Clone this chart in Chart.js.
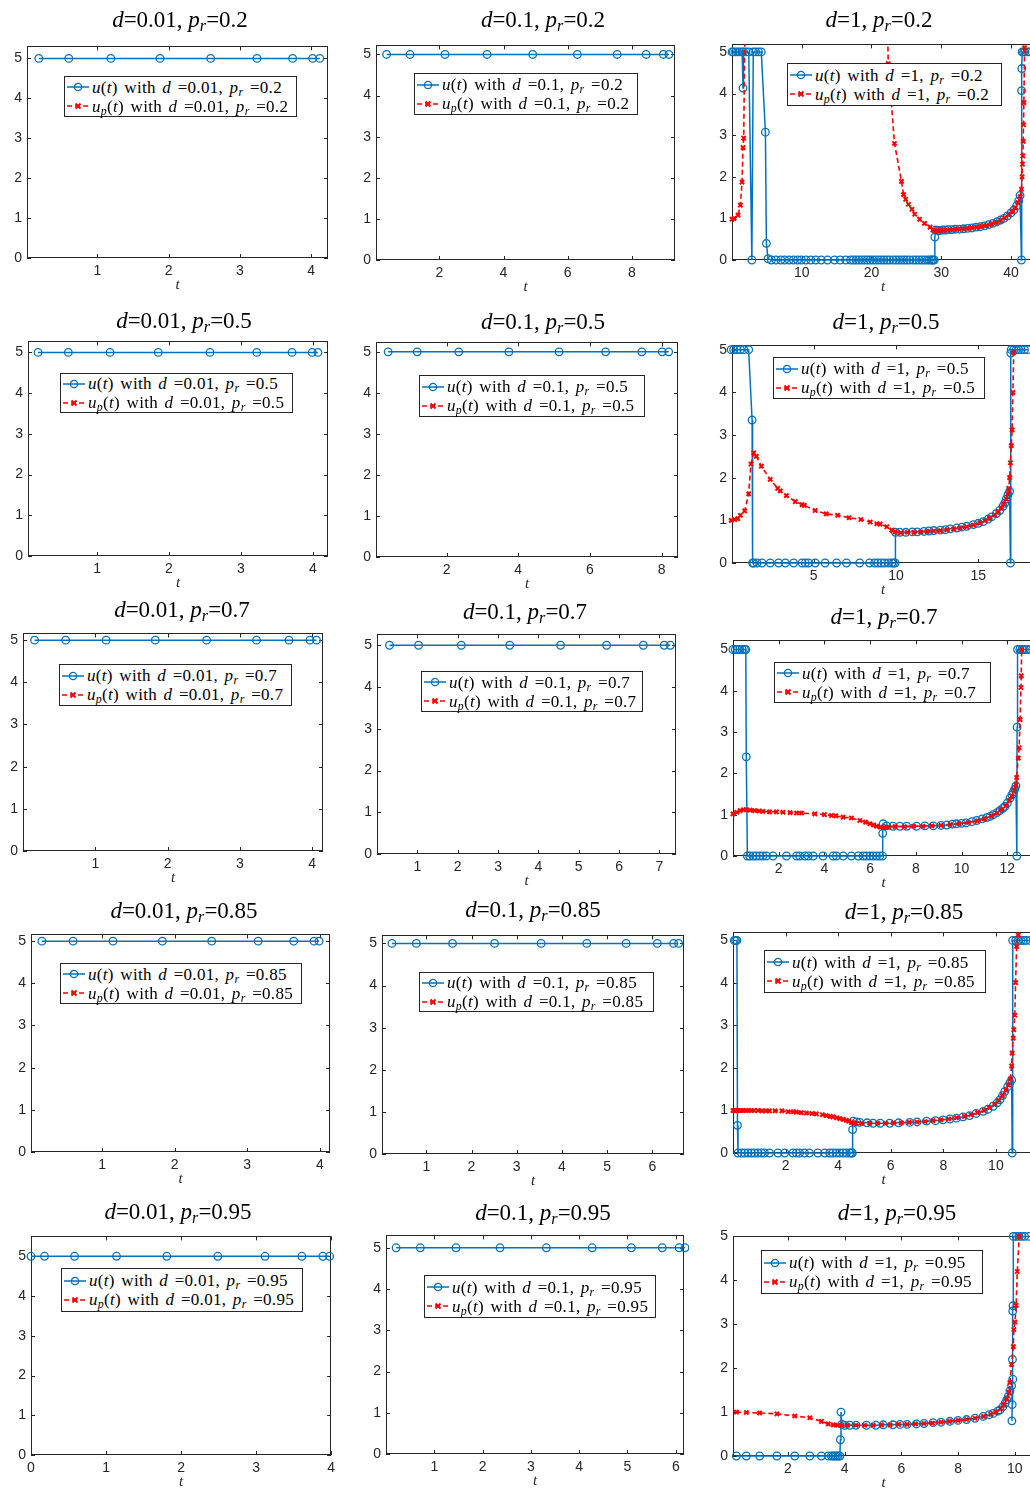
<!DOCTYPE html>
<html>
<head>
<meta charset="utf-8">
<script src="https://cdn.jsdelivr.net/npm/chart.js@4.4.0/dist/chart.umd.min.js"></script>
<style>
  html, body { margin: 0; padding: 0; background: #fff; }
  body { width: 1030px; height: 1489px; position: relative; overflow: hidden; }
  .panel { position: absolute; }
  .ttl { position: absolute; width: 300px; text-align: center; font: 23px "Liberation Serif", serif; line-height: 26px; color: #000; white-space: nowrap; }
  .leg { position: absolute; box-sizing: border-box; background: #fff; border: 1px solid #262626; font: 17px "Liberation Serif", serif; color: #000; z-index: 5; display: flex; flex-direction: column; justify-content: center; padding-left: 1px; white-space: nowrap; letter-spacing: 0.3px; word-spacing: 2px; }
  .leg .row { height: 19px; line-height: 19px; display: flex; align-items: center; }
  .leg svg { flex: none; margin-right: 2px; }
  sub { font-size: 70%; vertical-align: -0.25em; line-height: 0; }
</style>
</head>
<body>
<script>
// parameters of the grid
const dValues = ['0.01', '0.1', '1'];
const prValues = ['0.2', '0.5', '0.7', '0.85', '0.95'];
const yTicks = [0, 1, 2, 3, 4, 5];

// x tick labels per panel (row = p_r, col = d)
const p11_xt = [1, 2, 3, 4];
const p12_xt = [2, 4, 6, 8];
const p13_xt = [10, 20, 30, 40];
const p21_xt = [1, 2, 3, 4];
const p22_xt = [2, 4, 6, 8];
const p23_xt = [5, 10, 15];
const p31_xt = [1, 2, 3, 4];
const p32_xt = [1, 2, 3, 4, 5, 6, 7];
const p33_xt = [2, 4, 6, 8, 10, 12];
const p41_xt = [1, 2, 3, 4];
const p42_xt = [1, 2, 3, 4, 5, 6];
const p43_xt = [2, 4, 6, 8, 10];
const p51_xt = [0, 1, 2, 3, 4];
const p52_xt = [1, 2, 3, 4, 5, 6];
const p53_xt = [2, 4, 6, 8, 10];

// u(t) : [t, u]
const p11_u = [[0.18,5],[0.6,5],[1.19,5],[1.88,5],[2.59,5],[3.24,5],[3.74,5],[4.02,5],[4.12,5]];
const p12_u = [[0.36,5],[1.09,5],[2.18,5],[3.49,5],[4.91,5],[6.3,5],[7.54,5],[8.44,5],[8.98,5],[9.15,5]];
const p21_u = [[0.18,5],[0.6,5],[1.18,5],[1.85,5],[2.57,5],[3.22,5],[3.71,5],[3.99,5],[4.07,5]];
const p22_u = [[0.37,5],[1.18,5],[2.34,5],[3.74,5],[5.14,5],[6.44,5],[7.45,5],[8.02,5],[8.2,5]];
const p31_u = [[0.16,5],[0.59,5],[1.15,5],[1.83,5],[2.54,5],[3.23,5],[3.68,5],[3.97,5],[4.06,5]];
const p32_u = [[0.31,5],[1.03,5],[2.09,5],[3.29,5],[4.55,5],[5.69,5],[6.6,5],[7.12,5],[7.27,5]];
const p41_u = [[0.17,5],[0.6,5],[1.15,5],[1.83,5],[2.51,5],[3.15,5],[3.64,5],[3.92,5],[3.99,5]];
const p42_u = [[0.24,5],[0.78,5],[1.58,5],[2.51,5],[3.54,5],[4.55,5],[5.42,5],[6.11,5],[6.47,5],[6.58,5]];
const p51_u = [[0,5],[0.18,5],[0.58,5],[1.14,5],[1.81,5],[2.49,5],[3.12,5],[3.61,5],[3.89,5],[3.98,5]];
const p52_u = [[0.21,5],[0.71,5],[1.45,5],[2.36,5],[3.32,5],[4.27,5],[5.08,5],[5.72,5],[6.07,5],[6.19,5]];

const p13_u = [[0,5],[0.2,5],[0.5,5],[0.8,5],[1.1,5],[1.45,5],[1.58,4.13],[1.65,5],[2.0,5],[2.4,5],[2.85,0],[3.05,5],[3.4,5],[3.8,5],[4.2,5],[4.79,3.07],[4.93,0.4],[5.17,0.03],[5.65,0],[6.3,0],[7.0,0],[7.56,0],[8.2,0],[8.8,0],[9.4,0],[9.95,0],[10.6,0],[11.3,0],[12.0,0],[12.8,0],[13.7,0],[14.7,0],[15.5,0],[16.3,0],[17.0,0],[17.4,0],[17.8,0],[18.2,0],[18.6,0],[19.0,0],[19.4,0],[19.8,0],[20.2,0],[20.6,0],[21.0,0],[21.4,0],[21.8,0],[22.2,0],[22.6,0],[23.1,0],[23.5,0],[23.9,0],[24.3,0],[24.7,0],[25.1,0],[25.5,0],[26.0,0],[26.4,0],[26.8,0],[27.2,0],[27.6,0],[28.0,0],[28.3,0],[28.6,0],[28.8,0],[29.0,0],[29.08,0.55],[29.2,0.72],[29.5,0.71],[29.8,0.71],[30.2,0.72],[30.6,0.72],[31.0,0.73],[31.5,0.73],[32.0,0.74],[32.6,0.74],[33.2,0.75],[33.8,0.76],[34.4,0.77],[35.0,0.79],[35.6,0.8],[36.2,0.82],[36.8,0.85],[37.4,0.88],[38.0,0.92],[38.5,0.96],[39.0,1.0],[39.5,1.06],[40.0,1.13],[40.4,1.2],[40.8,1.3],[41.1,1.42],[41.3,1.55],[41.5,0],[41.52,4.07],[41.55,4.6],[41.6,5],[41.8,5],[42.0,5],[42.3,5],[42.6,5]];
const p23_u = [[0,5],[0.15,5],[0.36,5],[0.56,5],[0.77,5],[1.06,5],[1.27,3.35],[1.3,0],[1.37,0],[1.57,0],[1.87,0],[2.37,0],[2.88,0],[3.29,0],[3.79,0],[4.3,0],[4.5,0],[4.7,0],[5.1,0],[5.7,0],[6.4,0],[7.0,0],[7.8,0],[8.4,0],[8.7,0],[8.9,0],[9.1,0],[9.3,0],[9.55,0],[9.75,0],[9.85,0],[9.95,0],[9.97,0.72],[10.25,0.72],[10.6,0.72],[11.0,0.73],[11.3,0.73],[11.7,0.74],[12.0,0.75],[12.3,0.76],[12.7,0.77],[13.0,0.78],[13.3,0.8],[13.7,0.82],[14.0,0.84],[14.3,0.86],[14.7,0.9],[15.0,0.93],[15.3,0.97],[15.6,1.03],[15.8,1.08],[16.1,1.16],[16.3,1.23],[16.5,1.33],[16.6,1.4],[16.7,1.5],[16.8,1.6],[16.9,1.68],[16.95,0],[16.97,4.92],[17.0,5],[17.15,5],[17.3,5],[17.45,5],[17.6,5],[17.8,5],[18.0,5]];
const p33_u = [[0,5],[0.1,5],[0.2,5],[0.3,5],[0.4,5],[0.5,5],[0.56,5],[0.58,2.4],[0.63,0],[0.73,0],[0.88,0],[1.02,0],[1.17,0],[1.31,0],[1.46,0],[1.75,0],[2.34,0],[2.78,0],[2.92,0],[3.14,0],[3.29,0],[3.51,0],[3.94,0],[4.38,0],[4.53,0],[4.82,0],[5.18,0],[5.48,0],[5.7,0],[5.84,0],[5.99,0],[6.13,0],[6.28,0],[6.42,0],[6.54,0],[6.55,0.55],[6.57,0.78],[6.72,0.73],[7.0,0.72],[7.3,0.72],[7.6,0.72],[8.03,0.72],[8.4,0.73],[8.76,0.73],[9.1,0.74],[9.35,0.75],[9.6,0.77],[9.78,0.78],[10.0,0.79],[10.2,0.8],[10.45,0.83],[10.66,0.86],[10.9,0.9],[11.1,0.93],[11.25,0.96],[11.39,1.0],[11.55,1.05],[11.68,1.1],[11.8,1.15],[11.9,1.2],[12.0,1.28],[12.12,1.4],[12.2,1.48],[12.27,1.55],[12.33,1.62],[12.38,1.7],[12.42,0],[12.43,3.12],[12.45,5],[12.55,5],[12.65,5],[12.75,5],[12.85,5],[13.0,5]];
const p43_u = [[0.05,5],[0.1,5],[0.15,5],[0.17,0.65],[0.19,0],[0.32,0],[0.44,0],[0.57,0],[0.7,0],[0.82,0],[0.95,0],[1.08,0],[1.2,0],[1.39,0],[1.71,0],[1.97,0],[2.28,0],[2.41,0],[2.53,0],[2.72,0],[2.91,0],[3.23,0],[3.49,0],[3.68,0],[3.8,0],[3.93,0],[4.06,0],[4.19,0],[4.31,0],[4.44,0],[4.5,0],[4.54,0],[4.55,0.55],[4.57,0.75],[4.7,0.73],[4.82,0.72],[5.1,0.71],[5.33,0.7],[5.6,0.7],[5.96,0.7],[6.3,0.71],[6.72,0.72],[7.0,0.73],[7.36,0.75],[7.7,0.76],[7.99,0.78],[8.25,0.8],[8.5,0.82],[8.75,0.85],[9.0,0.88],[9.25,0.93],[9.52,0.98],[9.7,1.03],[9.9,1.1],[10.05,1.18],[10.15,1.25],[10.25,1.35],[10.34,1.45],[10.45,1.56],[10.53,1.65],[10.6,1.72],[10.62,0],[10.64,5],[10.75,5],[10.85,5],[10.95,5],[11.05,5],[11.15,5],[11.3,5]];
const p53_u = [[0.18,0],[0.53,0],[1.0,0],[1.61,0],[2.24,0],[2.77,0],[3.18,0],[3.42,0],[3.53,0],[3.59,0],[3.65,0],[3.71,0],[3.77,0],[3.83,0],[3.85,0.37],[3.87,1.0],[3.9,0.72],[4.0,0.7],[4.18,0.7],[4.4,0.7],[4.77,0.7],[5.1,0.7],[5.36,0.71],[5.7,0.71],[5.95,0.72],[6.2,0.72],[6.53,0.73],[6.8,0.74],[7.12,0.76],[7.4,0.77],[7.71,0.79],[8.0,0.81],[8.3,0.83],[8.6,0.86],[8.89,0.9],[9.1,0.94],[9.24,0.97],[9.4,1.02],[9.48,1.05],[9.58,1.12],[9.66,1.2],[9.72,1.28],[9.77,1.35],[9.83,1.48],[9.89,1.6],[9.93,1.75],[9.9,0.8],[9.91,1.17],[9.92,2.2],[9.93,3.3],[9.94,3.42],[9.95,5],[10.05,5],[10.15,5],[10.25,5],[10.35,5],[10.5,5]];

// u_p(t) : [t, u_p]  (for d = 0.01 and 0.1 it stays out of view)
const p11_up = [], p12_up = [], p21_up = [], p22_up = [], p31_up = [];
const p32_up = [], p41_up = [], p42_up = [], p51_up = [], p52_up = [];
const p13_up = [[0,0.98],[0.3,1.0],[0.87,1.08],[1.2,1.32],[1.44,1.87],[1.58,2.7],[1.68,2.93],[1.9,6.5],[22.2,6.5],[22.4,4.72],[23.3,2.8],[24.3,1.89],[24.6,1.57],[24.9,1.46],[25.3,1.34],[25.8,1.22],[26.2,1.1],[26.9,0.98],[27.6,0.88],[28.4,0.79],[28.8,0.72],[29.1,0.7],[29.4,0.7],[29.8,0.71],[30.3,0.71],[30.9,0.72],[31.6,0.73],[32.3,0.74],[33.0,0.75],[33.7,0.76],[34.4,0.77],[35.1,0.79],[35.8,0.81],[36.5,0.83],[37.2,0.86],[37.9,0.9],[38.5,0.95],[39.1,1.01],[39.7,1.09],[40.2,1.17],[40.6,1.26],[41.0,1.38],[41.3,1.52],[41.5,1.7],[41.6,2.0],[41.65,2.3],[41.7,2.5],[41.75,2.85],[41.8,3.25],[41.85,3.78],[41.95,5.1],[42.0,6.5]];
const p23_up = [[0,1.0],[0.21,1.02],[0.4,1.04],[0.56,1.12],[0.82,1.22],[1.06,1.62],[1.2,2.32],[1.37,2.58],[1.53,2.5],[1.83,2.27],[2.37,1.96],[2.82,1.75],[2.98,1.69],[3.35,1.58],[3.89,1.44],[4.3,1.37],[4.44,1.35],[5.1,1.23],[5.77,1.15],[6.46,1.12],[7.16,1.06],[7.87,1.02],[8.44,0.96],[8.84,0.92],[9.04,0.91],[9.45,0.85],[9.75,0.77],[9.95,0.73],[10.3,0.71],[10.7,0.72],[11.1,0.72],[11.5,0.73],[11.9,0.74],[12.3,0.75],[12.7,0.76],[13.1,0.78],[13.5,0.8],[13.9,0.82],[14.3,0.85],[14.7,0.89],[15.1,0.94],[15.4,0.99],[15.7,1.05],[16.0,1.13],[16.2,1.2],[16.4,1.29],[16.55,1.38],[16.7,1.5],[16.8,1.62],[16.85,1.75],[16.9,2.0],[16.95,2.35],[17.0,2.75],[17.05,3.12],[17.1,4.0],[17.15,4.93]];
const p33_up = [[0,1.02],[0.17,1.06],[0.31,1.1],[0.46,1.12],[0.58,1.12],[0.75,1.11],[0.95,1.1],[1.15,1.09],[1.31,1.08],[1.6,1.07],[1.9,1.07],[2.19,1.06],[2.5,1.05],[2.78,1.04],[3.0,1.04],[3.58,1.02],[4.0,1.0],[4.31,0.98],[4.5,0.97],[4.82,0.94],[5.18,0.92],[5.55,0.86],[5.8,0.82],[5.99,0.78],[6.15,0.75],[6.28,0.72],[6.45,0.7],[6.6,0.69],[6.8,0.7],[7.1,0.71],[7.5,0.71],[7.9,0.72],[8.3,0.72],[8.7,0.73],[9.1,0.74],[9.5,0.76],[9.9,0.78],[10.3,0.81],[10.7,0.85],[11.0,0.9],[11.3,0.97],[11.55,1.04],[11.75,1.12],[11.95,1.22],[12.1,1.35],[12.2,1.45],[12.3,1.58],[12.38,1.72],[12.41,1.9],[12.48,2.37],[12.52,2.62],[12.56,3.3],[12.6,4.08],[12.61,4.36],[12.63,5.0]];
const p43_up = [[0,1.0],[0.05,1.0],[0.1,1.0],[0.15,1.0],[0.2,1.0],[0.25,1.0],[0.32,1.0],[0.4,1.0],[0.5,1.0],[0.6,1.0],[0.7,1.0],[0.8,1.0],[0.95,1.0],[1.1,0.99],[1.25,0.99],[1.39,0.99],[1.6,0.99],[1.86,0.99],[2.1,0.97],[2.3,0.97],[2.41,0.96],[2.6,0.95],[2.79,0.94],[3.0,0.93],[3.17,0.92],[3.4,0.9],[3.55,0.88],[3.7,0.86],[3.8,0.85],[3.95,0.83],[4.06,0.81],[4.2,0.79],[4.31,0.77],[4.4,0.75],[4.5,0.72],[4.6,0.71],[4.69,0.7],[4.9,0.7],[5.2,0.7],[5.5,0.7],[5.8,0.7],[6.1,0.71],[6.4,0.71],[6.7,0.72],[7.0,0.73],[7.3,0.74],[7.6,0.76],[7.9,0.78],[8.2,0.8],[8.5,0.83],[8.8,0.86],[9.05,0.9],[9.3,0.95],[9.55,1.0],[9.75,1.07],[9.95,1.15],[10.1,1.24],[10.25,1.35],[10.38,1.48],[10.48,1.6],[10.55,1.74],[10.6,2.05],[10.62,2.35],[10.66,2.7],[10.68,2.9],[10.72,3.24],[10.75,4.01],[10.79,4.86],[10.85,5.13]];
const p53_up = [[0.18,1.0],[0.53,0.99],[1.0,0.98],[1.61,0.96],[2.24,0.91],[2.77,0.87],[3.18,0.79],[3.42,0.73],[3.6,0.71],[3.75,0.7],[3.9,0.7],[4.1,0.7],[4.4,0.7],[4.7,0.7],[5.0,0.7],[5.3,0.71],[5.6,0.71],[5.9,0.72],[6.2,0.72],[6.5,0.73],[6.8,0.74],[7.1,0.75],[7.4,0.77],[7.7,0.79],[8.0,0.81],[8.3,0.83],[8.6,0.86],[8.9,0.9],[9.15,0.95],[9.35,1.0],[9.5,1.08],[9.62,1.17],[9.72,1.3],[9.8,1.45],[9.83,1.67],[9.89,2.08],[9.95,2.49],[9.97,2.88],[10.01,3.05],[10.05,3.43],[10.09,4.2],[10.16,5.0]];

var BLUE = '#0072BD';
var RED = '#FF0000';
var INK = '#262626';

// axes placement: box = [left, top, right, bottom] on the page
var panels = [
  {r:0, c:0, u:p11_u, up:p11_up, xt:p11_xt, box:[27,43,328,258],    xr:[0.014,4.236], ymax:5.3,  ttl:[180,20],   leg:[64,76,297,117]},
  {r:0, c:1, u:p12_u, up:p12_up, xt:p12_xt, box:[376,42,675,260],   xr:[0.03,9.34],   ymax:5.22, ttl:[543,20],   leg:[414,73,638,115]},
  {r:0, c:2, u:p13_u, up:p13_up, xt:p13_xt, box:[732,41,1034,260],  xr:[0,43.3],      ymax:5.18, ttl:[879,20],   leg:[787,63,1002,106], topClip:0},
  {r:1, c:0, u:p21_u, up:p21_up, xt:p21_xt, box:[28,338,328,556],   xr:[0.04,4.21],   ymax:5.27, ttl:[184,321],  leg:[60,373,293,413]},
  {r:1, c:1, u:p22_u, up:p22_up, xt:p22_xt, box:[376,339,678,557],  xr:[0.03,8.46],   ymax:5.23, ttl:[543,322],  leg:[419,375,645,417]},
  {r:1, c:2, u:p23_u, up:p23_up, xt:p23_xt, box:[732,342,1034,563], xr:[0.05,18.38],  ymax:5.1,  ttl:[886,322],  leg:[773,357,985,399]},
  {r:2, c:0, u:p31_u, up:p31_up, xt:p31_xt, box:[23,630,323,851],   xr:[0,4.15],      ymax:5.16, ttl:[182,610],  leg:[59,664,292,706]},
  {r:2, c:1, u:p32_u, up:p32_up, xt:p32_xt, box:[377,631,676,854],  xr:[0,7.41],      ymax:5.26, ttl:[525,612],  leg:[421,671,643,712]},
  {r:2, c:2, u:p33_u, up:p33_up, xt:p33_xt, box:[733,637,1034,856], xr:[0,13.17],     ymax:5.22, ttl:[884,617],  leg:[774,662,991,703]},
  {r:3, c:0, u:p41_u, up:p41_up, xt:p41_xt, box:[31,931,330,1152],  xr:[0.02,4.14],   ymax:5.16, ttl:[184,911],  leg:[60,963,302,1004]},
  {r:3, c:1, u:p42_u, up:p42_up, xt:p42_xt, box:[382,932,684,1154], xr:[0.02,6.7],    ymax:5.19, ttl:[533,910],  leg:[419,972,654,1012]},
  {r:3, c:2, u:p43_u, up:p43_up, xt:p43_xt, box:[733,929,1034,1153],xr:[0,11.45],     ymax:5.19, ttl:[904,912],  leg:[764,950,986,993]},
  {r:4, c:0, u:p51_u, up:p51_up, xt:p51_xt, box:[31,1233,332,1455], xr:[0,4],         ymax:5.5,  ttl:[178,1212], leg:[61,1268,303,1312]},
  {r:4, c:1, u:p52_u, up:p52_up, xt:p52_xt, box:[386,1232,684,1454],xr:[0,6.17],      ymax:5.3,  ttl:[543,1213], leg:[424,1275,656,1318]},
  {r:4, c:2, u:p53_u, up:p53_up, xt:p53_xt, box:[733,1233,1034,1456],xr:[0.06,10.68], ymax:5.0,  ttl:[897,1213], leg:[761,1250,983,1294]}
];

// room around the axes box inside each canvas
var PL = 30, PT = 10, PR = 8, PB = 38;

// matlab style box with inward ticks on all four sides
var boxPlugin = {
  id: 'matlabBox',
  beforeDatasetsDraw: function (chart) {
    var ctx = chart.ctx, a = chart.chartArea;
    var x = chart.scales.x, y = chart.scales.y;
    ctx.save();
    ctx.strokeStyle = INK;
    ctx.lineWidth = 1;
    ctx.strokeRect(Math.round(a.left) + 0.5, Math.round(a.top) + 0.5, Math.round(a.right - a.left) - 1, Math.round(a.bottom - a.top) - 1);
    ctx.beginPath();
    x.ticks.forEach(function (t) {
      var px = Math.round(x.getPixelForValue(t.value)) + 0.5;
      ctx.moveTo(px, a.bottom); ctx.lineTo(px, a.bottom - 4);
      ctx.moveTo(px, a.top); ctx.lineTo(px, a.top + 4);
    });
    y.ticks.forEach(function (t) {
      var py = Math.round(y.getPixelForValue(t.value)) + 0.5;
      ctx.moveTo(a.left, py); ctx.lineTo(a.left + 4, py);
      ctx.moveTo(a.right, py); ctx.lineTo(a.right - 4, py);
    });
    ctx.stroke();
    ctx.restore();
  }
};

function toXY(arr) {
  return arr.map(function (p) { return { x: p[0], y: p[1] }; });
}

function mathText(isUp, d, pr) {
  var head = isUp ? '<i>u</i><sub><i>p</i></sub>(<i>t</i>)' : '<i>u</i>(<i>t</i>)';
  return head + ' with <i>d</i> =' + d + ', <i>p</i><sub><i>r</i></sub> =' + pr;
}

function iconSvg(isUp) {
  if (!isUp) {
    return '<svg width="24" height="12"><line x1="1" y1="6" x2="23" y2="6" stroke="' + BLUE + '" stroke-width="1.5"/>' +
      '<circle cx="12" cy="6" r="3.6" fill="none" stroke="' + BLUE + '" stroke-width="1.3"/></svg>';
  }
  return '<svg width="24" height="12"><line x1="1" y1="6" x2="23" y2="6" stroke="' + RED + '" stroke-width="1.6" stroke-dasharray="5,3"/>' +
    '<path d="M9.5 3.5 L14.5 8.5 M14.5 3.5 L9.5 8.5" stroke="' + RED + '" stroke-width="2"/></svg>';
}

panels.forEach(function (p) {
  var d = dValues[p.c], pr = prValues[p.r];
  var L = p.box[0], T = p.box[1], R = p.box[2], B = p.box[3];

  var wrap = document.createElement('div');
  wrap.className = 'panel';
  wrap.style.left = (L - PL) + 'px';
  wrap.style.top = (T - PT) + 'px';
  wrap.style.width = (R - L + PL + PR) + 'px';
  wrap.style.height = (B - T + PT + PB) + 'px';
  var cv = document.createElement('canvas');
  wrap.appendChild(cv);
  document.body.appendChild(wrap);

  var ttl = document.createElement('div');
  ttl.className = 'ttl';
  ttl.style.left = (p.ttl[0] - 150) + 'px';
  ttl.style.top = (p.ttl[1] - 13) + 'px';
  ttl.innerHTML = '<i>d</i>=' + d + ', <i>p</i><sub><i>r</i></sub>=' + pr;
  document.body.appendChild(ttl);

  var leg = document.createElement('div');
  leg.className = 'leg';
  leg.style.left = p.leg[0] + 'px';
  leg.style.top = p.leg[1] + 'px';
  leg.style.width = (p.leg[2] - p.leg[0]) + 'px';
  leg.style.height = (p.leg[3] - p.leg[1]) + 'px';
  leg.innerHTML = '<div class="row">' + iconSvg(false) + '<span>' + mathText(false, d, pr) + '</span></div>' +
    '<div class="row">' + iconSvg(true) + '<span>' + mathText(true, d, pr) + '</span></div>';
  document.body.appendChild(leg);

  var top = p.topClip === undefined ? 5 : p.topClip;
  var clip = { left: 5, right: 5, top: top, bottom: 5 };
  var tickFont = { family: '"Liberation Sans", Arial, sans-serif', size: 14 };

  new Chart(cv, {
    type: 'line',
    data: {
      datasets: [
        {
          label: 'u(t) with d =' + d + ', p_r =' + pr,
          data: toXY(p.u),
          order: 1,
          borderColor: BLUE,
          borderWidth: 1.5,
          pointStyle: 'circle',
          pointRadius: 3.8,
          pointBorderWidth: 1.3,
          pointBorderColor: BLUE,
          pointBackgroundColor: 'rgba(0,0,0,0)',
          fill: false,
          tension: 0,
          clip: clip
        },
        {
          label: 'u_p(t) with d =' + d + ', p_r =' + pr,
          data: toXY(p.up),
          order: 0,
          borderColor: RED,
          borderWidth: 1.6,
          borderDash: [5, 3],
          pointStyle: 'crossRot',
          pointRadius: 3,
          pointBorderWidth: 2,
          pointBorderColor: RED,
          fill: false,
          tension: 0,
          clip: clip
        }
      ]
    },
    options: {
      animation: false,
      responsive: true,
      maintainAspectRatio: false,
      devicePixelRatio: 1,
      layout: { padding: { top: PT, right: PR, left: 0, bottom: 0 } },
      plugins: { legend: { display: false }, tooltip: { enabled: false } },
      events: [],
      scales: {
        x: {
          type: 'linear',
          min: p.xr[0],
          max: p.xr[1],
          grid: { display: false, drawTicks: false },
          border: { display: false },
          ticks: { color: INK, font: tickFont, padding: 5, autoSkip: false, maxRotation: 0 },
          afterBuildTicks: function (s) { s.ticks = p.xt.map(function (v) { return { value: v }; }); },
          afterFit: function (s) { s.height = PB; },
          title: { display: true, text: 't', color: INK, padding: { top: 0, bottom: 2 },
                   font: { family: '"Liberation Serif", serif', style: 'italic', size: 15 } }
        },
        y: {
          type: 'linear',
          min: 0,
          max: p.ymax,
          grid: { display: false, drawTicks: false },
          border: { display: false },
          ticks: { color: INK, font: tickFont, padding: 5 },
          afterBuildTicks: function (s) { s.ticks = yTicks.map(function (v) { return { value: v }; }); },
          afterFit: function (s) { s.width = PL; }
        }
      }
    },
    plugins: [boxPlugin]
  });
});
</script>
</body>
</html>
